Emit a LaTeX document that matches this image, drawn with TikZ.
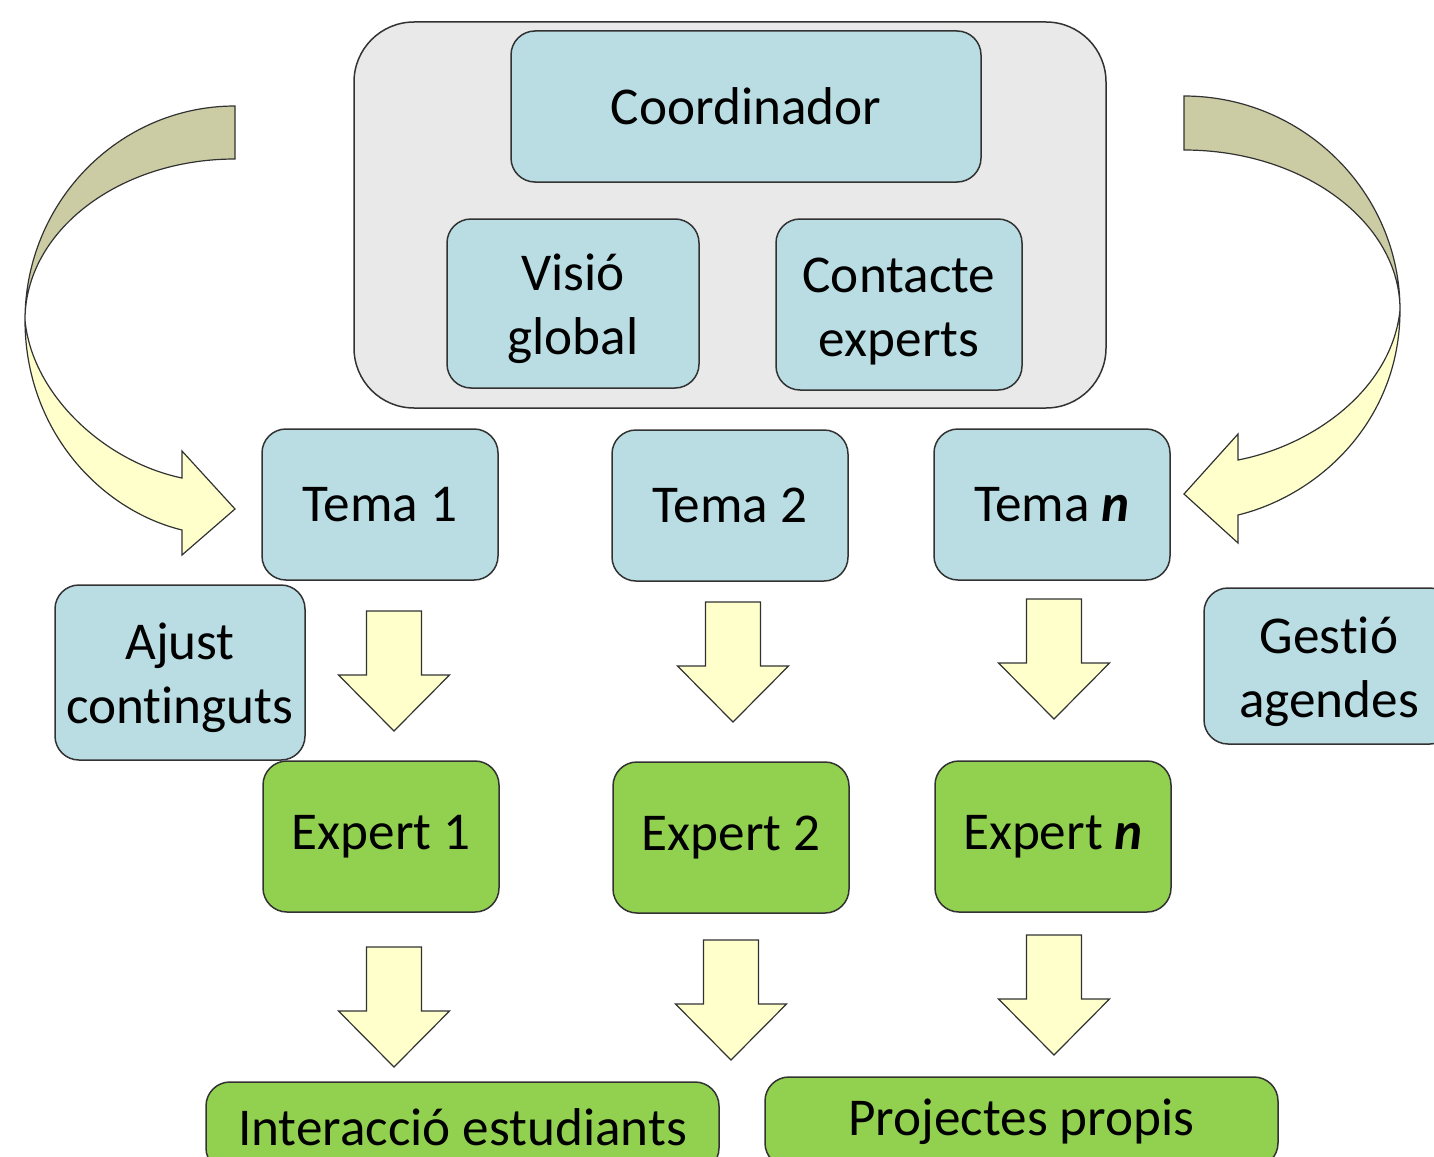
\documentclass[tikz,border=0pt]{standalone}
\usepackage{fontspec}
\setmainfont{Carlito}[Ligatures={NoCommon}]
\definecolor{boxblue}{RGB}{185,221,227}
\definecolor{boxgreen}{RGB}{146,208,80}
\definecolor{boxgray}{RGB}{233,233,233}
\definecolor{arrowyellow}{RGB}{255,255,204}
\definecolor{arrowolive}{RGB}{204,204,164}
\definecolor{edgegray}{RGB}{50,50,50}
\tikzset{
  box/.style={draw=edgegray, line width=.75pt, rounded corners=12pt, inner sep=0pt,
    align=center, font=\fontsize{26.6}{32}\selectfont},
  tema/.style={box, fill=boxblue, minimum width=118pt, minimum height=75.5pt},
  expert/.style={box, fill=boxgreen, minimum width=118pt, minimum height=75.5pt},
  result/.style={box, fill=boxgreen, minimum width=256.5pt, minimum height=45pt},
  blockarrow/.style={draw=edgegray, line width=.6pt, fill=arrowyellow, line join=miter},
  backband/.style={draw=edgegray, line width=.6pt, fill=arrowolive},
  frontband/.style={draw=edgegray, line width=.6pt, fill=arrowyellow, line join=miter}
}
\begin{document}
\begin{tikzpicture}[x=.5pt, y=-.5pt]
\useasboundingbox (0,0) rectangle (1434,1156);
\clip (0,0) rectangle (1434,1156);

% coordinator group
\node[box, fill=boxgray, rounded corners=30pt, minimum width=376pt, minimum height=193pt] (coordgroup) at (730,215) {};
\node[box, fill=boxblue, minimum width=235pt, minimum height=75.5pt] (coord) at (746,106.5) {Coordinador};
\node[box, fill=boxblue, minimum width=126pt, minimum height=84.5pt] (visio) at (573,303.5) {\rule{0pt}{24pt}Visió\\ global};
\node[box, fill=boxblue, minimum width=123pt, minimum height=85.5pt] (contacte) at (899,304.5) {\rule{0pt}{24pt}Contacte\\ experts};

% topics
\node[tema] (tema1) at (380,504.5) {Tema 1};
\node[tema] (tema2) at (730,505.5) {Tema 2};
\node[tema] (teman) at (1052,504.5) {Tema \textbf{\textit{n}}};
\node[box, fill=boxblue, minimum width=125pt, minimum height=87.5pt] (ajust) at (180,672.5) {\rule{0pt}{24pt}Ajust\\ continguts};
\node[box, fill=boxblue, minimum width=125pt, minimum height=78pt] (gestio) at (1329,666) {\rule{0pt}{24pt}Gestió\\ agendes};

% experts
\node[expert] (expert1) at (381,836.5) {Expert 1};
\node[expert] (expert2) at (731,837.5) {Expert 2};
\node[expert] (expertn) at (1053,836.5) {Expert \textbf{\textit{n}}};

% results
\node[result] (inter) at (462.5,1127) {Interacció estudiants};
\node[result] (proj) at (1021.5,1122) {Projectes propis};

% down arrows
\foreach \cx/\ty in {394/611,733/602,1054/599,394/947,731/940,1054/935}
{
  \draw[blockarrow] (\cx-27.5,\ty) -- (\cx+27.5,\ty) -- (\cx+27.5,\ty+64) -- (\cx+55.5,\ty+64)
    -- (\cx,\ty+120) -- (\cx-55.5,\ty+64) -- (\cx-27.5,\ty+64) -- cycle;
}

% left curved arrow
\draw[backband] (235,106) .. controls (119,106) and (25,202) .. (25,320)
  .. controls (25,231) and (119,159) .. (235,159) -- cycle;
\draw[frontband] (25,320) .. controls (25,430) and (100,510) .. (182,530) -- (182,555) -- (235,509)
  -- (182,451) -- (182,478) .. controls (105,462) and (32,395) .. (25,320) -- cycle;

% right curved arrow
\draw[backband] (1184,96) .. controls (1303,96) and (1400,192) .. (1400,310)
  .. controls (1400,222) and (1303,150) .. (1184,150) -- cycle;
\draw[frontband] (1400,310) .. controls (1400,420) and (1320,495) .. (1238,515) -- (1238,543) -- (1184,494)
  -- (1238,434) -- (1238,460) .. controls (1315,445) and (1392,388) .. (1400,310) -- cycle;
\end{tikzpicture}
\end{document}
